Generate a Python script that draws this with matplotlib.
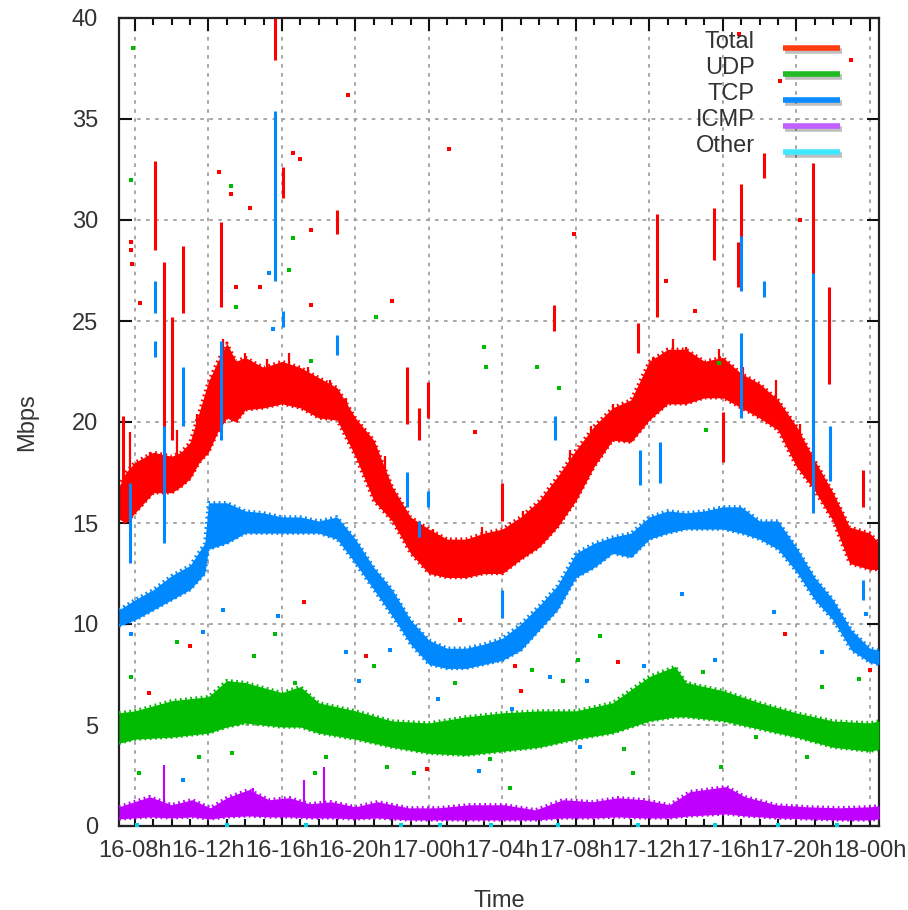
import numpy as np
import matplotlib
matplotlib.use("Agg")
from matplotlib import pyplot as plt
from matplotlib import patheffects as pe
from matplotlib.ticker import MultipleLocator

plt.rcParams['font.family'] = ['Liberation Sans', 'DejaVu Sans']

# time is in hours from 16-00h
tick_hours = [8, 12, 16, 20, 24, 28, 32, 36, 40, 44, 48]
tick_labels = ["16-08h", "16-12h", "16-16h", "16-20h", "17-00h", "17-04h",
               "17-08h", "17-12h", "17-16h", "17-20h", "18-00h"]

# band of each series: hour, low, high (Mbps)
total_h = [7.13, 7.5, 8, 9, 10, 10.5, 11, 11.5, 12, 12.5, 13, 13.5, 14, 15, 16, 17, 18,
           19, 20, 21, 22, 23, 24, 25, 26, 27, 28, 29, 30, 31, 32, 33, 34, 35, 36,
           37, 38, 39, 40, 41, 42, 43, 44, 45, 46, 46.9, 48, 48.5]
total_lo = [15.2, 15.0, 15.5, 16.5, 16.5, 16.8, 17.2, 18.0, 18.5, 19.5, 20.2, 20.0, 20.6,
            20.7, 20.9, 20.7, 20.2, 20.1, 18.3, 16.1, 15.1, 13.5, 12.5, 12.3, 12.3, 12.5,
            12.5, 13.2, 13.8, 14.8, 16.1, 17.8, 19.1, 19.0, 20.1, 20.9, 20.9, 21.2, 21.2,
            20.7, 20.2, 19.6, 17.8, 16.6, 15.1, 13.0, 12.7, 12.7]
total_hi = [16.8, 17.5, 18.0, 18.5, 18.3, 18.5, 19.0, 20.5, 22.0, 23.0, 23.9, 23.0, 23.2,
            22.7, 23.0, 22.7, 22.2, 21.7, 20.2, 19.1, 16.8, 15.3, 14.7, 14.2, 14.2, 14.5,
            14.7, 15.3, 16.1, 17.3, 18.6, 19.8, 20.7, 21.1, 23.0, 23.6, 23.6, 23.0, 23.2,
            22.4, 21.9, 21.1, 19.8, 18.1, 16.5, 14.8, 14.5, 14.0]

tcp_h = [7.13, 8, 9, 10, 11, 11.8, 12, 13, 14, 15, 16, 17, 18, 19, 20, 21, 22, 23, 24,
         25, 26, 27, 28, 29, 30, 31, 32, 33, 34, 35, 36, 37, 38, 39, 40, 41, 42, 43, 44,
         45, 46, 47, 48, 48.5]
tcp_lo = [9.9, 10.2, 10.7, 11.2, 11.7, 12.5, 13.7, 14.0, 14.5, 14.5, 14.5, 14.5, 14.5,
          14.2, 13.0, 11.7, 10.4, 9.0, 8.0, 7.8, 7.8, 8.0, 8.2, 8.7, 9.7, 10.7, 12.3,
          12.8, 13.5, 13.3, 14.2, 14.5, 14.7, 14.7, 14.7, 14.5, 14.2, 13.7, 12.6, 11.2,
          10.2, 8.7, 8.1, 8.0]
tcp_hi = [10.7, 11.2, 11.7, 12.4, 12.9, 14.0, 16.0, 16.0, 15.6, 15.5, 15.3, 15.3, 15.1,
          15.3, 14.2, 12.8, 11.7, 10.2, 9.2, 8.8, 8.8, 9.0, 9.3, 10.0, 10.9, 11.9, 13.5,
          14.0, 14.3, 14.5, 15.3, 15.6, 15.5, 15.6, 15.8, 15.8, 15.1, 15.1, 13.8, 12.3,
          11.2, 9.7, 8.8, 8.7]

udp_h = [7.13, 8, 10, 12, 13, 14, 16, 17, 18, 20, 22, 24, 26, 28, 30, 32, 34, 36, 37.4,
         38, 40, 42, 44, 46, 48, 48.5]
udp_lo = [4.1, 4.3, 4.4, 4.6, 4.9, 5.1, 4.9, 4.9, 4.6, 4.3, 3.9, 3.6, 3.5, 3.7, 3.9, 4.3,
          4.6, 5.2, 5.4, 5.4, 5.2, 4.8, 4.4, 3.9, 3.7, 3.8]
udp_hi = [5.6, 5.7, 6.2, 6.4, 7.2, 7.1, 6.6, 6.9, 6.1, 5.7, 5.2, 5.1, 5.4, 5.6, 5.7, 5.7,
          6.1, 7.4, 7.9, 7.1, 6.7, 6.1, 5.6, 5.2, 5.1, 5.2]

icmp_h = [7.13, 8.8, 10.0, 11.1, 12.1, 13.0, 14.2, 15.3, 16.4, 17.5, 18.7, 20.0, 21.2,
          22.9, 24.5, 26.2, 28.1, 29.8, 31.3, 32.9, 34.3, 35.7, 37.1, 38.2, 40.2, 41.2,
          42.9, 44.6, 46.3, 48.0, 48.5]
icmp_lo = [0.35, 0.45, 0.4, 0.45, 0.35, 0.45, 0.5, 0.45, 0.45, 0.4, 0.4, 0.35, 0.4,
           0.3, 0.3, 0.3, 0.3, 0.3, 0.4, 0.4, 0.45, 0.4, 0.4, 0.5, 0.6, 0.5, 0.4, 0.35,
           0.3, 0.3, 0.35]
icmp_hi = [0.95, 1.45, 1.05, 1.3, 0.9, 1.4, 1.8, 1.3, 1.4, 1.1, 1.2, 0.95, 1.2, 0.9,
           0.9, 1.05, 1.05, 0.8, 1.3, 1.2, 1.4, 1.3, 1.05, 1.7, 1.95, 1.45, 1.05, 0.95,
           0.9, 0.95, 1.0]

# short bursts: hour, low, high
total_sp_h = [7.35, 9.09, 9.58, 10.01, 10.61, 12.68, 15.62, 16.05, 18.99, 22.80, 23.46,
              23.95, 27.97, 30.80, 35.37, 36.41, 39.51, 40.0, 40.82, 40.98, 42.23, 44.90,
              45.77, 47.62]
total_sp_lo = [17.0, 28.5, 18.5, 19.1, 25.4, 25.7, 37.9, 31.1, 29.3, 19.9, 19.1, 20.2,
               15.1, 24.5, 23.4, 25.2, 28.0, 18.0, 26.7, 28.5, 32.1, 18.0, 21.9, 15.8]
total_sp_hi = [20.3, 32.9, 27.9, 25.2, 28.7, 29.9, 40.0, 32.6, 30.5, 22.7, 20.7, 22.0,
               17.0, 25.8, 24.9, 30.3, 30.6, 20.5, 28.9, 31.8, 33.3, 32.8, 26.7, 17.6]

# small peaks along the top of the Total band: hour, peak
total_pk_h = [7.73, 8.8, 10.3, 11.4, 12.8, 14.0, 15.2, 16.4, 17.4, 18.6, 19.5, 21.1,
              21.6, 24.2, 26.9, 29.1, 31.7, 32.8, 34.0, 35.2, 36.2, 37.3, 38.0, 39.8,
              41.1, 42.9, 44.2]
total_pk_v = [19.5, 18.5, 19.6, 20.4, 24.1, 23.4, 23.1, 23.4, 22.7, 22.1, 21.2, 18.8,
              18.3, 14.7, 14.8, 15.6, 18.6, 19.8, 20.9, 21.2, 23.2, 24.1, 23.7, 23.6,
              22.7, 22.1, 19.9]

tcp_sp_h = [7.73, 9.09, 9.09, 9.58, 10.61, 12.68, 15.62, 16.05, 18.99, 22.80, 23.46,
            23.95, 27.97, 30.86, 35.48, 36.57, 40.98, 40.98, 42.23, 44.90, 45.82, 47.62]
tcp_sp_lo = [13.0, 25.4, 23.2, 14.0, 19.8, 19.1, 27.0, 24.7, 23.3, 15.8, 14.3, 15.8,
             10.3, 19.1, 16.9, 17.0, 20.2, 26.5, 26.2, 15.5, 17.1, 11.2]
tcp_sp_hi = [17.0, 27.0, 24.0, 19.8, 22.7, 24.0, 35.4, 25.5, 24.3, 17.5, 15.1, 16.6,
             11.7, 20.3, 18.6, 19.0, 24.4, 29.2, 27.0, 27.4, 19.8, 12.2]

icmp_sp_h = [9.6, 14.4, 17.2, 18.3]
icmp_sp_hi = [3.0, 1.9, 2.3, 2.9]

# stray samples: hour, Mbps
total_dot_h = [7.78, 7.8, 7.85, 8.27, 12.6, 14.26, 14.8, 13.5, 17.0, 17.6, 17.6, 16.6,
               13.2, 19.6, 25.1, 31.9, 40.9, 43.1, 47.0, 8.76, 11.0, 17.2, 25.7, 28.7,
               29.0, 34.3, 43.4, 48.0, 20.6, 23.9, 33.7, 22.0, 26.5, 36.9, 38.5, 44.2]
total_dot_v = [28.9, 28.5, 27.8, 25.9, 32.4, 30.6, 26.7, 26.7, 33.0, 29.5, 25.8, 33.3,
               31.3, 36.2, 33.5, 29.3, 39.2, 36.9, 37.9, 6.6, 8.9, 11.1, 10.2, 7.9, 6.7,
               8.1, 9.5, 7.7, 8.4, 2.8, 4.8, 26.0, 19.5, 27.0, 25.5, 30.0]
tcp_dot_h = [7.8, 11.7, 12.8, 15.8, 19.5, 20.2, 21.9, 30.6, 32.6, 35.7, 39.6, 45.4,
             32.2, 26.7, 10.6, 47.8, 15.3, 15.5, 24.5, 28.5, 37.8, 42.8]
tcp_dot_v = [9.5, 9.6, 10.7, 10.4, 8.6, 7.2, 8.7, 7.4, 7.2, 7.9, 8.2, 8.6, 3.9, 2.7,
             2.3, 10.5, 27.4, 24.6, 6.3, 5.8, 11.5, 10.6]
udp_dot_h = [7.8, 8.2, 10.3, 11.5, 13.3, 14.5, 15.6, 16.7, 17.8, 18.4, 21.0, 21.7, 23.2,
             25.4, 27.3, 28.4, 29.6, 31.3, 32.1, 33.3, 35.1, 38.9, 39.9, 41.8, 44.6,
             45.4, 47.4, 34.6, 7.8, 13.2, 13.5, 16.6, 16.4, 17.6, 21.1, 27.0, 27.1,
             29.9, 31.1, 39.1, 39.8, 7.9]
udp_dot_v = [7.4, 2.6, 9.1, 3.4, 3.6, 8.4, 9.5, 7.1, 2.6, 3.4, 7.9, 2.9, 2.6, 7.1, 3.3,
             1.9, 7.7, 7.2, 8.2, 9.4, 2.6, 7.6, 2.9, 4.4, 3.4, 6.9, 7.3, 3.8, 32.0,
             31.7, 25.7, 29.1, 27.5, 23.0, 25.2, 23.7, 22.7, 22.7, 21.7, 19.6, 22.9, 38.5]
other_dot_h = [8.1, 13.0, 17.3, 22.5, 24.6, 27.4, 31.0, 35.4, 39.6, 43.0, 46.2]
other_dot_v = [0.06, 0.05, 0.06, 0.05, 0.05, 0.06, 0.05, 0.06, 0.05, 0.06, 0.05]

legend_names = ["Total", "UDP", "TCP", "ICMP", "Other"]
legend_cols = ["#ff3c10", "#22bb22", "#0a8cff", "#c060ff", "#40e8ff"]

RED, GREEN, BLUE, PURPLE, CYAN = "#ff0000", "#00bb00", "#0088ff", "#c000ff", "#00d0e0"
fringe = (0, (0.5, 1.0))


def band(ax, h, lo, hi, col, z):
    ax.fill_between(h, lo, hi, color=col, lw=0, zorder=z)
    # ragged edge like the dense point cloud
    ax.plot(h, hi, color=col, lw=2.5, ls=fringe, zorder=z)
    ax.plot(h, lo, color=col, lw=2.5, ls=fringe, zorder=z)


fig = plt.figure(figsize=(9.08, 9.10), dpi=100)
ax = fig.add_axes([119 / 908, 84 / 910, 760 / 908, 808 / 910])

txt = "#333333"

# Total
band(ax, total_h, total_lo, total_hi, RED, 2)
ax.vlines(total_sp_h, total_sp_lo, total_sp_hi, color=RED, lw=2.2, zorder=2)
ax.vlines(total_pk_h, np.interp(total_pk_h, total_h, total_hi) - 0.5, total_pk_v,
          color=RED, lw=1.6, zorder=2)
ax.scatter(total_dot_h, total_dot_v, s=5, marker="s", color=RED, lw=0, zorder=2)
# UDP
band(ax, udp_h, udp_lo, udp_hi, GREEN, 3)
ax.scatter(udp_dot_h, udp_dot_v, s=5, marker="s", color=GREEN, lw=0, zorder=3)
# TCP
band(ax, tcp_h, tcp_lo, tcp_hi, BLUE, 4)
ax.vlines(tcp_sp_h, tcp_sp_lo, tcp_sp_hi, color=BLUE, lw=2.2, zorder=4)
ax.scatter(tcp_dot_h, tcp_dot_v, s=5, marker="s", color=BLUE, lw=0, zorder=4)
# ICMP
band(ax, icmp_h, icmp_lo, icmp_hi, PURPLE, 5)
ax.vlines(icmp_sp_h, [0.8] * len(icmp_sp_h), icmp_sp_hi, color=PURPLE, lw=1.5, zorder=5)
# Other
ax.scatter(other_dot_h, other_dot_v, s=6, marker="s", color=CYAN, lw=0, zorder=6)

ax.set_xlim(7.13, 48.5)
ax.set_ylim(0, 40)
ax.set_xticks(tick_hours)
ax.set_xticklabels(tick_labels)
ax.xaxis.set_minor_locator(MultipleLocator(1))
ax.yaxis.set_major_locator(MultipleLocator(5))

ax.grid(True, which="major", color="#a0a0a0", linestyle=(0, (2, 3)), lw=1.3, zorder=1)
ax.set_axisbelow(True)
ax.tick_params(which="both", direction="in", top=True, right=True, colors="#111111",
               labelcolor=txt, labelsize=17, width=1.5)
ax.tick_params(which="major", length=9)
ax.tick_params(which="minor", length=5)
ax.tick_params(axis="y", pad=15)
ax.tick_params(axis="x", pad=10)
for s in ax.spines.values():
    s.set_linewidth(1.6)
    s.set_color("#222222")

ax.set_ylabel("Mbps", fontsize=17, color=txt, labelpad=24)
ax.set_xlabel("Time", fontsize=17, color=txt, labelpad=20)

# key in the upper right corner
for i, (name, keycol) in enumerate(zip(legend_names, legend_cols)):
    ypix = 48 + i * 26
    ya = (826 - ypix) / 808
    ax.text((755 - 119) / 760, ya + 6 / 808, name, transform=ax.transAxes,
            ha="right", va="center", fontsize=17, color=txt, zorder=10)
    ax.plot([(783 - 119) / 760, (840 - 119) / 760], [ya, ya],
            transform=ax.transAxes, color=keycol, lw=4, solid_capstyle="butt", zorder=10,
            path_effects=[pe.SimpleLineShadow(offset=(1.5, -2), alpha=0.25), pe.Normal()])

fig.savefig("out.png", dpi=100)
